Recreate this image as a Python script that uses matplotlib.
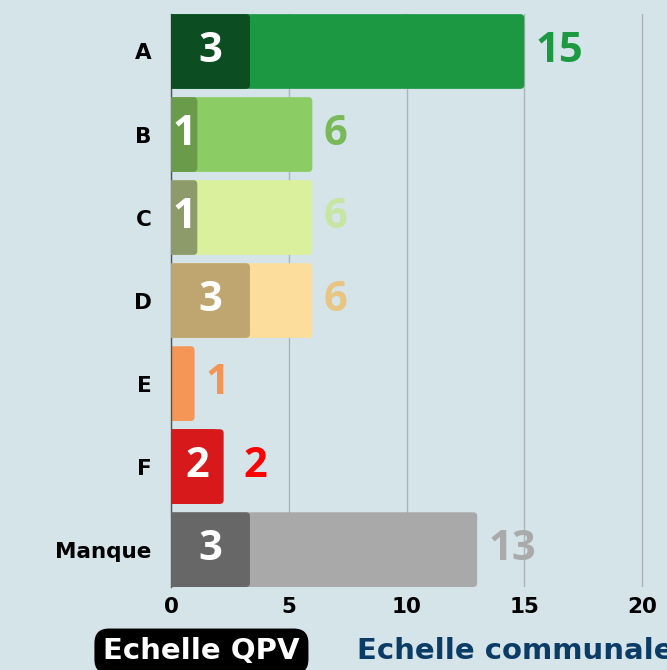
import matplotlib.pyplot as plt
from matplotlib.patches import FancyBboxPatch

# Données
categories = ["A", "B", "C", "D", "E", "F", "Manque"]
communal = [15, 6, 6, 6, 1, 2, 13]
qpv = [3, 1, 1, 3, 0, 2, 3]

couleurs_communal = ["#1b9841", "#8bcc64", "#dbf09d", "#fddd9b", "#f59556", "#d7191c", "#a9a9a9"]
couleurs_qpv = ["#0c4d21", "#6a9b4b", "#8d9a6a", "#bfa56f", "#f59556", "#d7191c", "#676767"]
couleurs_label = ["#1c9941", "#7ab95a", "#c6e6a2", "#e8c583", "#f59555", "#ff0000", "#aaaaaa"]

fond = "#d4e4e8"
police_chiffres = "Open Sans"
police_texte = "DejaVu Sans"

fig = plt.figure(figsize=(6.67, 6.70), dpi=100, facecolor=fond)
ax = fig.add_axes([0.2564, 0.1239, 0.7238, 0.855])
ax.set_facecolor(fond)
ax.set_xlim(0, 20.5)
ax.set_ylim(6.45, -0.45)

# deuxième échelle pour les QPV
ax2 = ax.twiny()
ax2.set_xlim(0, 20.5 * 17.9 / 20)
ax2.set_ylim(6.45, -0.45)
ax2.axis("off")

h = 0.9
for i, cat in enumerate(categories):
    # barre communale, coins arrondis à droite (partie gauche coupée par l'axe)
    p = FancyBboxPatch((-0.5, i - h / 2), communal[i] + 0.5, h,
                       boxstyle="round,pad=0,rounding_size=0.17",
                       mutation_aspect=0.285, fc=couleurs_communal[i], ec="none",
                       zorder=2)
    ax.add_patch(p)
    if qpv[i] > 0:
        q = FancyBboxPatch((-0.5, i - h / 2), qpv[i] + 0.5, h,
                           boxstyle="round,pad=0,rounding_size=0.152",
                           mutation_aspect=0.319, fc=couleurs_qpv[i], ec="none",
                           zorder=3)
        ax2.add_patch(q)
        ax2.text(qpv[i] / 2, i, str(qpv[i]), color="white", fontsize=30,
                 fontweight="bold", family=police_chiffres, ha="center", va="center",
                 zorder=4)
    fin = max(communal[i], qpv[i] * 20 / 17.9)
    decal = 14 if cat == "F" else 8
    ax.annotate(str(communal[i]), (fin, i), xytext=(decal, 0), textcoords="offset points",
                color=couleurs_label[i], fontsize=30, fontweight="bold",
                family=police_chiffres, ha="left", va="center", zorder=4)

ax.set_yticks(range(len(categories)))
ax.set_yticklabels(categories)
ax.set_xticks([0, 5, 10, 15, 20])
for lab in ax.get_xticklabels() + ax.get_yticklabels():
    lab.set_fontfamily(police_texte)
    lab.set_fontweight("bold")
    lab.set_fontsize(15.5)
ax.tick_params(axis="both", length=0, colors="black")
ax.tick_params(axis="x", pad=7)
ax.tick_params(axis="y", pad=14)

ax.grid(True, axis="x", color="#a9b5b9", linewidth=1, zorder=0)
ax.set_axisbelow(True)
for s in ["top", "right", "bottom"]:
    ax.spines[s].set_visible(False)
ax.spines["left"].set_color("#555555")
ax.spines["left"].set_linewidth(1)

# légende en bas
fig.text(0.302, 0.016, "Echelle QPV", color="white", fontsize=21, fontweight="bold",
         family=police_texte, ha="center", va="baseline",
         bbox=dict(boxstyle="round,pad=0.3,rounding_size=0.5", fc="black", ec="none"))
fig.text(0.535, 0.016, "Echelle communale", color="#0b3c66", fontsize=21,
         fontweight="bold", family=police_texte, ha="left", va="baseline")

fig.savefig("out.png", dpi=100, facecolor=fond)
